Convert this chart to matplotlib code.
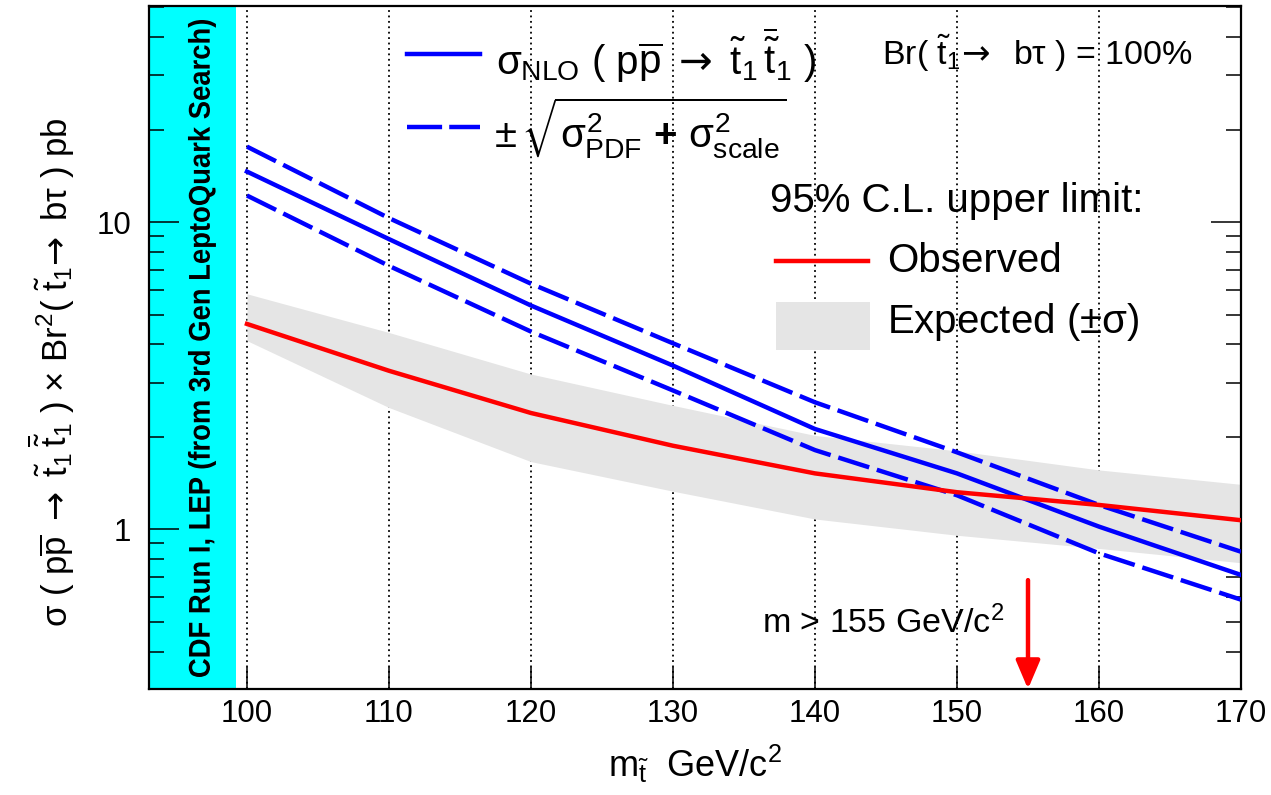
import matplotlib
matplotlib.use('Agg')
import matplotlib.pyplot as plt
from matplotlib.font_manager import FontProperties
from matplotlib.lines import Line2D
from matplotlib.patches import Rectangle, PathPatch
from matplotlib.textpath import TextPath
from matplotlib.transforms import Affine2D, IdentityTransform
import numpy as np

# stop mass points (GeV/c^2)
mass = [100, 110, 120, 130, 140, 150, 160, 170]
# NLO cross section and +- uncertainty (pb)
nlo = [14.6, 8.8, 5.35, 3.41, 2.12, 1.52, 1.02, 0.71]
nlo_up = [17.6, 10.3, 6.3, 4.03, 2.59, 1.78, 1.20, 0.845]
nlo_down = [12.2, 7.2, 4.4, 2.83, 1.81, 1.29, 0.835, 0.59]
# 95% CL limits (pb)
observed = [4.66, 3.28, 2.39, 1.87, 1.52, 1.32, 1.20, 1.07]
expected_hi = [5.84, 4.37, 3.20, 2.53, 2.02, 1.80, 1.56, 1.40]
expected_lo = [4.11, 2.49, 1.66, 1.33, 1.08, 0.956, 0.866, 0.778]
excluded_before = 99.2
limit_mass = 155
xticks = [100, 110, 120, 130, 140, 150, 160, 170]
band_text = 'CDF Run I, LEP (from 3rd Gen LeptoQuark Search)'

plt.rcParams['font.family'] = ['Liberation Sans', 'DejaVu Sans']
plt.rcParams['mathtext.fontset'] = 'custom'
plt.rcParams['mathtext.rm'] = 'Liberation Sans'
plt.rcParams['mathtext.it'] = 'Liberation Sans'
plt.rcParams['mathtext.bf'] = 'Liberation Sans:bold'
plt.rcParams['mathtext.sf'] = 'DejaVu Sans'   # used only for the arrows
plt.rcParams['mathtext.fallback'] = 'stixsans'

ARROW = r'\mathsf{\rightarrow}'

W, H = 1271, 795
def fx(px):
    return px / W
def fy(py):
    return 1 - py / H

fig = plt.figure(figsize=(W / 100, H / 100), dpi=100)
ax = fig.add_axes([fx(149), fy(689), (1241 - 149) / W, (689 - 6) / H])

blue = '#0000ff'
red = '#ff0000'
dash = (7.3, 1.8)

ax.fill_between(mass, expected_lo, expected_hi, color='#e5e5e5', lw=0, zorder=1)
ax.plot(mass, nlo, color=blue, lw=3.2, zorder=3)
ax.plot(mass, nlo_up, color=blue, lw=3.2, dashes=dash, zorder=3)
ax.plot(mass, nlo_down, color=blue, lw=3.2, dashes=dash, zorder=3)
ax.plot(mass, observed, color=red, lw=3.2, zorder=4)

ax.set_yscale('log')
ax.set_xlim(93.1, 170)
ax.set_ylim(0.302, 50.5)

ax.axvspan(93.1, excluded_before, color='#00ffff', lw=0, zorder=0.2)

# condensed bold label inside the cyan band (drawn as a squeezed text path)
tp = TextPath((0, 0), band_text, size=30, prop=FontProperties(family='Liberation Sans', weight='bold'))
ext = tp.get_extents()
sx = 657 / ext.width
tr = (Affine2D().translate(-ext.x0, 0).scale(sx, 1).rotate_deg(90)
      .translate(199 + 10.7, H - 677))
fig.add_artist(PathPatch(tr.transform_path(tp), transform=IdentityTransform(),
                         facecolor='black', edgecolor='none', zorder=5))

ax.set_axisbelow(True)
ax.set_xticks(xticks)
ax.grid(True, axis='x', which='major', color='black', lw=1.3, linestyle=(0, (1, 2)))
ax.tick_params(axis='both', which='both', direction='in', labelsize=22.5)
ax.tick_params(axis='y', which='both', left=True, right=True)
ax.tick_params(axis='y', which='major', length=21.6, width=1.1, pad=13)
ax.tick_params(axis='y', which='minor', length=10.6, width=1.1)
ax.tick_params(axis='x', which='major', length=15.8, width=1.1, pad=7, top=False)
ax.set_yticks([1, 10])
ax.set_yticklabels(['1', '10'])
ax.yaxis.set_minor_formatter(matplotlib.ticker.NullFormatter())
for s in ax.spines.values():
    s.set_linewidth(1.6)

ax.set_xlabel(r'm$_{\tilde{\mathrm{t}}}$  GeV/c$^2$', fontsize=26, labelpad=10)
ax.set_ylabel(r'$\sigma$ ( p$\overline{\mathrm{p}}$ $' + ARROW + r'$ $\tilde{\mathrm{t}}_1\,\overline{\tilde{\mathrm{t}}}_1$ ) '
              r'$\times$ Br$^2$( $\tilde{\mathrm{t}}_1\!' + ARROW + r'$ b$\tau$ ) pb', fontsize=25)
ax.yaxis.set_label_coords(-0.066, 0.464)

# limit arrow
ax.annotate('', xy=(limit_mass, 0.302), xytext=(limit_mass, 0.683),
            arrowprops=dict(arrowstyle='-|>,head_length=0.4,head_width=0.17',
                            color=red, lw=3.2, mutation_scale=43,
                            shrinkA=0, shrinkB=0), zorder=5)
ax.text(136.3, 0.4595, r'm > %d GeV/c$^2$' % limit_mass, fontsize=24.5,
        ha='left', va='baseline')

# legend block
fig.add_artist(Line2D([fx(407), fx(480)], [fy(54)] * 2, color=blue, lw=3.2))
fig.add_artist(Line2D([fx(407), fx(480)], [fy(127)] * 2, color=blue, lw=3.2, dashes=(7.9, 1.6)))
fig.text(fx(496), fy(75), r'$\sigma_{\rm NLO}\ (\ \mathrm{p\overline{p}}\ ' + ARROW + r'\ \tilde{\mathrm{t}}_1\,\overline{\tilde{\mathrm{t}}}_1\ )$',
         fontsize=29, ha='left', va='baseline')
fig.text(fx(494), fy(148), r'$\pm\,\sqrt{\sigma^2_{\rm PDF}\ \mathbf{+}\ \sigma^2_{\rm scale}}$',
         fontsize=29, ha='left', va='baseline')
fig.text(fx(882), fy(65), r'Br( $\tilde{\mathrm{t}}_1\!' + ARROW + r'\;$ b$\tau$ ) = 100%',
         fontsize=24.5, ha='left', va='baseline')
fig.text(fx(770), fy(212), '95% C.L. upper limit:', fontsize=29, ha='left', va='baseline')
fig.add_artist(Line2D([fx(776), fx(868)], [fy(261)] * 2, color=red, lw=3.2))
fig.text(fx(887), fy(272), 'Observed', fontsize=29, ha='left', va='baseline')
fig.add_artist(Rectangle((fx(776), fy(350)), fx(870) - fx(776), fy(302) - fy(350),
                         transform=fig.transFigure, color='#e5e5e5', lw=0))
fig.text(fx(887), fy(333), r'Expected ($\pm\sigma$)', fontsize=29, ha='left', va='baseline')

fig.savefig('out.png', dpi=100)
